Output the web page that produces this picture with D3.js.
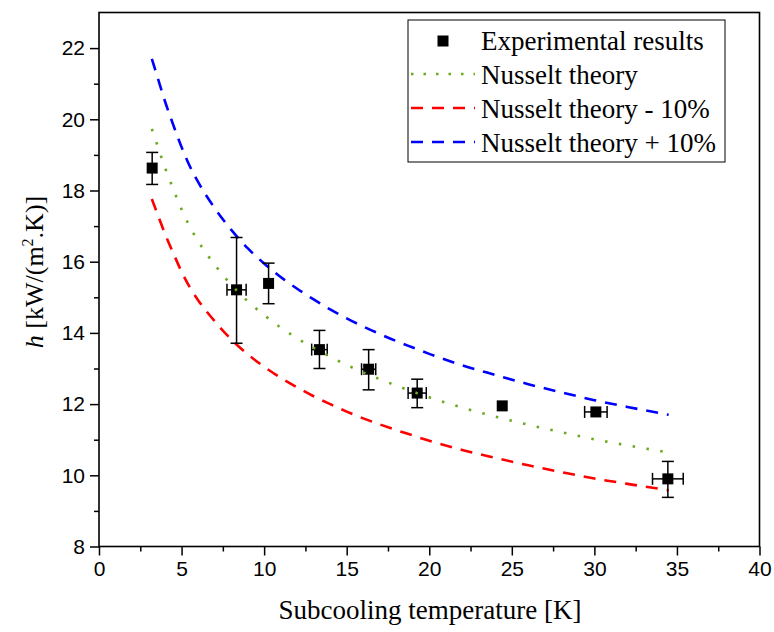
<!DOCTYPE html>
<html><head><meta charset="utf-8">
<script src="https://cdn.jsdelivr.net/npm/d3@7"></script>
<style>
body{margin:0;background:#fff}svg{display:block}
.serif{font-family:"Liberation Serif","Times New Roman",Times,Tinos,"Nimbus Roman","DejaVu Serif",serif}
.sans{font-family:"Liberation Sans",Arial,Arimo,Helvetica,"Nimbus Sans",sans-serif}
</style>
</head><body>
<svg id="c" width="774" height="632"></svg>
<script>
// Experimental points
const expX = [3.22, 8.33, 10.27, 13.35, 16.33, 19.27, 24.42, 30.09, 34.45];
const expY = [18.63, 15.21, 15.39, 13.53, 12.98, 12.31, 11.95, 11.78, 9.90];
const expYLo = [18.17, 13.71, 14.82, 13.00, 12.40, 11.90, null, null, 9.38];
const expYHi = [19.07, 16.68, 15.96, 14.07, 13.53, 12.70, null, null, 10.39];
const expXErr = [0, 0.58, 0, 0.47, 0.43, 0.55, 0, 0.68, 0.93];

// Theory curves
const curveX = [3.2, 3.5, 4, 4.5, 5, 5.5, 6, 7, 8, 9, 10, 11, 12, 13, 14, 15, 16, 17, 18, 19, 20, 22, 24, 26, 28, 30, 32, 34.5];
const nusselt = [19.73, 19.32, 18.64, 18.04, 17.47, 16.98, 16.58, 15.92, 15.36, 14.89, 14.50, 14.15, 13.85, 13.58, 13.33, 13.10, 12.89, 12.70, 12.52, 12.35, 12.19, 11.90, 11.65, 11.42, 11.21, 11.01, 10.84, 10.64];
const nusseltPlus = [21.70, 21.25, 20.50, 19.84, 19.22, 18.68, 18.24, 17.51, 16.90, 16.38, 15.95, 15.57, 15.24, 14.94, 14.66, 14.41, 14.18, 13.97, 13.77, 13.59, 13.41, 13.09, 12.82, 12.56, 12.33, 12.11, 11.92, 11.70];
const nusseltMinus = [17.76, 17.39, 16.78, 16.24, 15.72, 15.28, 14.92, 14.33, 13.82, 13.40, 13.05, 12.74, 12.47, 12.22, 12.00, 11.79, 11.60, 11.43, 11.27, 11.12, 10.97, 10.71, 10.49, 10.28, 10.09, 9.91, 9.76, 9.58];

const xTicks = [0, 5, 10, 15, 20, 25, 30, 35, 40];
const yTicks = [8, 10, 12, 14, 16, 18, 20, 22];
const legendLabels = ["Experimental results", "Nusselt theory", "Nusselt theory - 10%", "Nusselt theory + 10%"];

const svg = d3.select("#c");
const L = 99, R = 759.5, T = 12.5, B = 546.5;
const x = d3.scaleLinear().domain([0, 40]).range([L, R]);
const y = d3.scaleLinear().domain([8, 23]).range([B, T]);

const GREEN = "#6aaa1e", RED = "#ff0000", BLUE = "#0000ff";

// Axes
const xAxis = d3.axisBottom(x).tickValues(xTicks).tickSize(9).tickPadding(6).tickFormat(d3.format("d"));
const yAxis = d3.axisLeft(y).tickValues(yTicks).tickSize(9).tickPadding(5).tickFormat(d3.format("d"));
svg.append("g").attr("transform", `translate(0,${B})`).call(xAxis);
svg.append("g").attr("transform", `translate(${L},0)`).call(yAxis);
const xMinor = d3.axisBottom(x).tickValues(d3.range(2.5, 40, 5)).tickSize(5).tickFormat("");
const yMinor = d3.axisLeft(y).tickValues(d3.range(9, 23, 2)).tickSize(5).tickFormat("");
svg.append("g").attr("transform", `translate(0,${B})`).call(xMinor);
svg.append("g").attr("transform", `translate(${L},0)`).call(yMinor);
svg.selectAll(".domain").remove();
svg.selectAll("g").attr("font-family", null);
svg.selectAll(".tick line").attr("stroke", "#000").attr("stroke-width", 1.5);
svg.selectAll(".tick text").attr("class", "sans").attr("font-size", 21).attr("fill", "#000");

// Frame
svg.append("rect").attr("x", L).attr("y", T).attr("width", R - L).attr("height", B - T)
  .attr("fill", "none").attr("stroke", "#000").attr("stroke-width", 1.6);

// Curves
const line = d3.line().x(d => x(d[0])).y(d => y(d[1])).curve(d3.curveMonotoneX);
function drawCurve(vals, color, dash) {
  svg.append("path").datum(curveX.map((cx, i) => [cx, vals[i]]))
    .attr("d", line).attr("fill", "none").attr("stroke", color)
    .attr("stroke-width", 2.6).attr("stroke-dasharray", dash);
}
drawCurve(nusseltMinus, RED, "12,9");
drawCurve(nusseltPlus, BLUE, "12,9");

// Error bars
const eb = svg.append("g").attr("stroke", "#000").attr("stroke-width", 1.5);
const cap = 6;
expX.forEach((ex, i) => {
  if (expYLo[i] != null) {
    eb.append("line").attr("x1", x(ex)).attr("x2", x(ex)).attr("y1", y(expYLo[i])).attr("y2", y(expYHi[i]));
    [expYLo[i], expYHi[i]].forEach(v => eb.append("line").attr("x1", x(ex) - cap).attr("x2", x(ex) + cap).attr("y1", y(v)).attr("y2", y(v)));
  }
  if (expXErr[i] > 0) {
    const a = ex - expXErr[i], b = ex + expXErr[i];
    eb.append("line").attr("x1", x(a)).attr("x2", x(b)).attr("y1", y(expY[i])).attr("y2", y(expY[i]));
    [a, b].forEach(v => eb.append("line").attr("x1", x(v)).attr("x2", x(v)).attr("y1", y(expY[i]) - cap).attr("y2", y(expY[i]) + cap));
  }
});
// Markers
const ms = 11;
svg.append("g").selectAll("rect").data(expX).join("rect")
  .attr("x", (d) => x(d) - ms / 2).attr("y", (d, i) => y(expY[i]) - ms / 2)
  .attr("width", ms).attr("height", ms).attr("fill", "#000");
// green dotted curve drawn on top of markers, as in the reference
drawCurve(nusselt, GREEN, "2.5,11.5");

// Legend
const lg = svg.append("g");
lg.append("rect").attr("x", 408).attr("y", 20).attr("width", 317).attr("height", 142)
  .attr("fill", "#fff").attr("stroke", "#000").attr("stroke-width", 1);
const rowsY = [50, 84, 118, 152];
const lx0 = 411, lx1 = 475, tx = 481;
lg.append("rect").attr("x", 443 - ms / 2).attr("y", rowsY[0] - 9 - ms / 2).attr("width", ms).attr("height", ms).attr("fill", "#000");
[[GREEN, "2.5,10"], [RED, "12,9"], [BLUE, "12,9"]].forEach((s, k) => {
  lg.append("line").attr("x1", lx0).attr("x2", lx1).attr("y1", rowsY[k + 1] - 10).attr("y2", rowsY[k + 1] - 10)
    .attr("stroke", s[0]).attr("stroke-width", 2.6).attr("stroke-dasharray", s[1]);
});
legendLabels.forEach((t, k) => {
  lg.append("text").attr("class", "serif").attr("x", tx).attr("y", rowsY[k]).text(t)
    .attr("font-size", 27).attr("fill", "#000");
});

// Axis titles
svg.append("text").attr("class", "serif").attr("x", 430).attr("y", 619).attr("text-anchor", "middle")
  .attr("font-size", 27).text("Subcooling temperature [K]");
const yt = svg.append("text").attr("class", "serif").attr("transform", `translate(43,272) rotate(-90)`).attr("text-anchor", "middle")
  .attr("font-size", 26);
yt.append("tspan").attr("font-style", "italic").text("h");
yt.append("tspan").text(" [kW/(m");
yt.append("tspan").attr("font-size", 16).attr("dy", -10).text("2");
yt.append("tspan").attr("dy", 10).text(".K)]");
</script>
</body></html>
